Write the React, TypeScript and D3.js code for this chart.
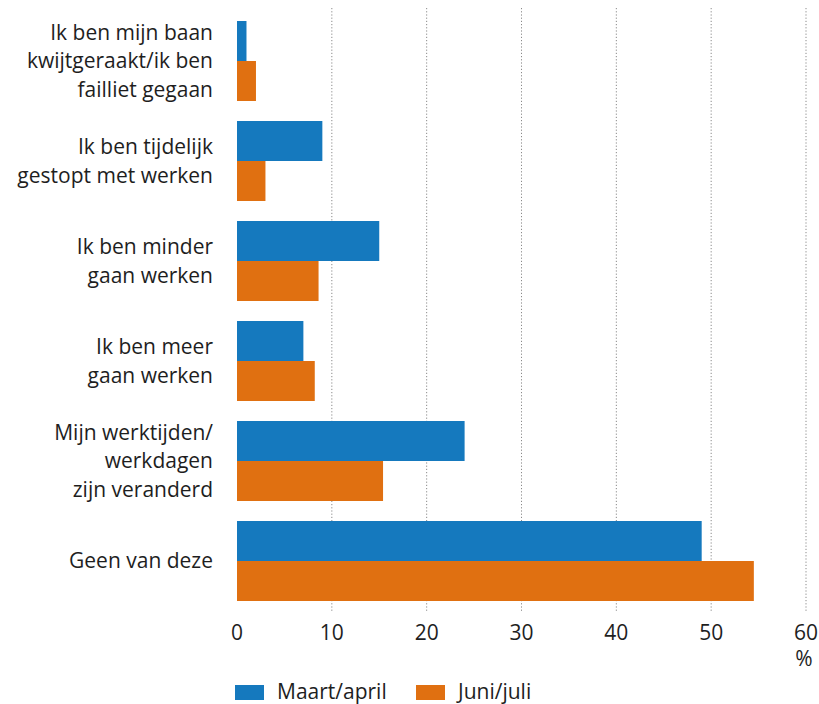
import React from "react";
import * as d3 from "d3";

const categories: string[][] = [
  ["Ik ben mijn baan", "kwijtgeraakt/ik ben", "failliet gegaan"],
  ["Ik ben tijdelijk", "gestopt met werken"],
  ["Ik ben minder", "gaan werken"],
  ["Ik ben meer", "gaan werken"],
  ["Mijn werktijden/", "werkdagen", "zijn veranderd"],
  ["Geen van deze"],
];
const maartApril = [1.0, 9.0, 15.0, 7.0, 24.0, 49.0];
const juniJuli = [2.0, 3.0, 8.6, 8.2, 15.4, 54.5];
const seriesNames = ["Maart/april", "Juni/juli"];
const colors = ["#1579BE", "#E07011"];
const ticks = [0, 10, 20, 30, 40, 50, 60];

const W = 819;
const H = 704;
const FONT = "'Open Sans', sans-serif";

export default function App() {
  const x = d3.scaleLinear().domain([0, 60]).range([237, 806]);
  const y = d3
    .scaleBand<number>()
    .domain(d3.range(categories.length))
    .range([11, 611])
    .paddingInner(0.2)
    .paddingOuter(0.1);
  const bw = y.bandwidth() / 2;
  const series = [maartApril, juniJuli];

  return (
    <svg
      width={W}
      height={H}
      style={{ position: "absolute", left: 0, top: 0, background: "#fff" }}
      fontFamily={FONT}
    >
      {ticks
        .filter((t) => t > 0)
        .map((t) => (
          <line
            key={t}
            x1={x(t)}
            x2={x(t)}
            y1={8}
            y2={611}
            stroke="#8a8a8a"
            strokeWidth={1}
            strokeDasharray="1.2,2"
          />
        ))}
      {series.map((vals, si) =>
        vals.map((v, i) => (
          <rect
            key={`${si}-${i}`}
            x={x(0)}
            y={(y(i) as number) + si * bw}
            width={x(v) - x(0)}
            height={bw}
            fill={colors[si]}
          />
        ))
      )}
      {categories.map((lines, i) => {
        const cy = (y(i) as number) + y.bandwidth() / 2;
        const lh = 28.5;
        const start = cy - ((lines.length - 1) * lh) / 2;
        return (
          <text key={i} textAnchor="end" fontSize={21} fill="#1e1e1e">
            {lines.map((l, j) => (
              <tspan key={j} x={213} y={start + j * lh} dy="0.35em">
                {l}
              </tspan>
            ))}
          </text>
        );
      })}
      {ticks.map((t) => (
        <text
          key={t}
          x={x(t)}
          y={633}
          dy="0.35em"
          textAnchor="middle"
          fontSize={21}
          fill="#1e1e1e"
        >
          {t}
        </text>
      ))}
      <text x={x(60) - 2} y={659} dy="0.35em" textAnchor="middle" fontSize={21} fill="#1e1e1e">
        %
      </text>
      {seriesNames.map((n, i) => {
        const lx = i === 0 ? 235 : 416;
        return (
          <g key={n}>
            <rect x={lx} y={685} width={29} height={15} fill={colors[i]} />
            <text x={lx + 42} y={692} dy="0.35em" fontSize={21} fill="#1e1e1e">
              {n}
            </text>
          </g>
        );
      })}
    </svg>
  );
}
